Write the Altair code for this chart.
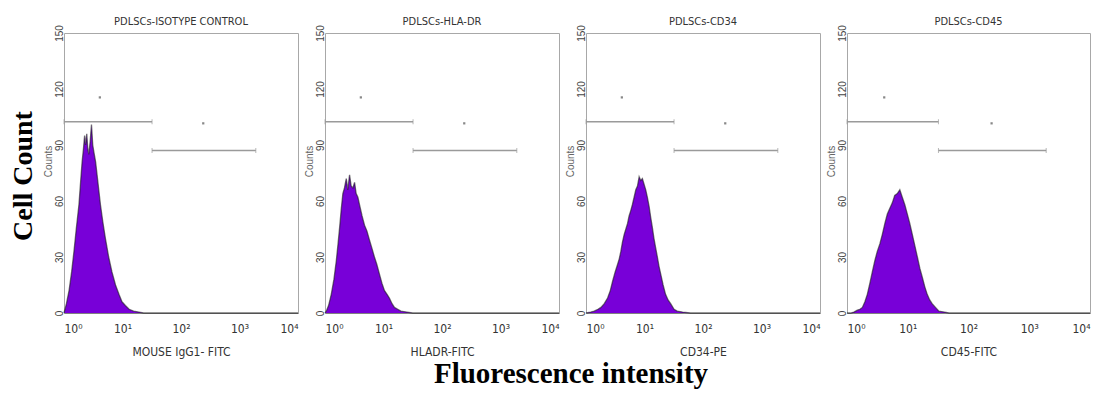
import altair as alt
import pandas as pd

# ---------------- data ----------------
titles = ["PDLSCs-ISOTYPE CONTROL", "PDLSCs-HLA-DR", "PDLSCs-CD34", "PDLSCs-CD45"]
xlabels = ["MOUSE IgG1- FITC", "HLADR-FITC", "CD34-PE", "CD45-FITC"]

p1_x = [1.0, 1.1, 1.22, 1.35, 1.48, 1.62, 1.8, 1.92, 2.04, 2.15, 2.25, 2.34, 2.45, 2.55, 2.66, 2.8,
        2.95, 3.1, 3.25, 3.47, 3.8, 4.2, 4.6, 5.1, 5.8, 6.6, 7.6, 8.7, 9.8, 11.2, 13, 15.5, 19, 23, 10000]
p1_y = [0, 5, 12, 22, 33, 45, 58, 70, 81, 88, 95, 90, 96, 88, 85, 92,
        101, 90, 86, 81, 70, 58, 49, 40, 30, 22, 15, 10, 6, 4, 2, 1, 0.5, 0, 0]

p2_x = [1.0, 1.05, 1.15, 1.28, 1.42, 1.56, 1.67, 1.78, 1.9, 2.02, 2.15, 2.31, 2.45, 2.63, 2.8, 3.0,
        3.2, 3.41, 3.65, 3.89, 4.3, 4.74, 5.2, 5.77, 6.3, 7.0, 7.7, 8.5, 9.4, 10.4, 11.5, 12.6, 14,
        15.4, 17.5, 19.9, 25, 31.6, 10000]
p2_y = [0, 1, 4, 10, 18, 28, 37, 46, 56, 64, 67, 72, 66, 74, 68, 67,
        70, 64, 62, 58, 52, 47, 44, 39, 35, 30, 26, 21, 16, 12, 10, 8, 5,
        3, 2, 1, 0.5, 0, 0]

p3_x = [1.0, 1.2, 1.38, 1.6, 1.8, 2.05, 2.34, 2.6, 2.85, 3.15, 3.46, 3.7, 3.94, 4.2, 4.49, 4.8,
        5.13, 5.45, 5.84, 6.2, 6.64, 7.1, 7.58, 8.1, 8.63, 9.2, 9.83, 10.5, 11.2, 12, 12.8, 13.6,
        14.5, 15.5, 16.6, 17.7, 18.9, 20.8, 22.9, 25.3, 28, 32, 36.3, 45, 61, 10000]
p3_y = [0, 0.5, 1, 2, 3, 5, 8, 12, 17, 22, 26, 29, 33, 38, 42, 45,
        48, 52, 55, 58, 62, 66, 68, 73, 71, 72, 69, 66, 62, 57, 51, 46,
        40, 35, 30, 25, 21, 15, 10, 7, 5, 2, 1, 0.5, 0, 0]

p4_x = [1.0, 1.15, 1.3, 1.48, 1.63, 1.79, 1.97, 2.16, 2.38, 2.61, 2.87, 3.15, 3.47, 3.81, 4.2, 4.61,
        5.05, 5.57, 6.1, 6.73, 7.4, 8.13, 8.95, 9.84, 10.8, 11.9, 13.1, 14.4, 15.8, 17.4, 19.1, 20.9,
        23, 25.2, 28.6, 32.6, 40, 47.8, 10000]
p4_y = [0, 0, 0.5, 1.5, 2, 3, 6, 10, 16, 22, 28, 33, 37, 42, 48, 53,
        56, 59, 63, 64, 66, 62, 58, 53, 48, 42, 36, 30, 24, 19, 14, 10,
        7, 5, 3, 1, 0.5, 0, 0]

# gate markers (same in every panel)
gate_x1 = [1, 32]
gate_x2 = [32, 1900]
gate_y = [102.5, 87]
dot_x = [4.1, 240]
dot_y = [115.5, 101.6]

y_ticks = [0, 30, 60, 90, 120, 150]
x_ticks = [1, 10, 100, 1000, 10000]

PURPLE = "#7800d8"
GRAY = "#9a9a9a"
NARROW = "Liberation Sans Narrow, DejaVu Sans Condensed, Liberation Sans, Arial"
SANS = "Liberation Sans, Arial"
SERIF = "Liberation Serif, Times New Roman"

xscale = alt.Scale(type="log", domain=[1, 10000])
yscale = alt.Scale(domain=[0, 150])
one = pd.DataFrame({"a": [0]})


def panel(xs, ys, title, xlabel, width, extra=None):
    df = pd.DataFrame({"x": xs, "y": ys})
    xaxis = alt.Axis(
        title=xlabel, values=x_ticks, grid=False, ticks=False,
        labelExpr="'10' + ['\u2070','\u00b9','\u00b2','\u00b3','\u2074'][round(log(datum.value)/LN10)]",
        labelFont=NARROW, labelFontSize=12, labelColor="#333", labelPadding=10,
        titleFont=NARROW, titleFontSize=12, titleFontWeight="normal", titleColor="#333",
        titlePadding=12, domainColor="#808080", domainWidth=1,
    )
    yaxis = alt.Axis(
        title="Counts", values=y_ticks, grid=False, ticks=False, domain=False,
        labelAngle=270, labelAlign="center", labelBaseline="bottom", labelPadding=0,
        labelFont=SANS, labelFontSize=10, labelColor="#444",
        titleFont=SANS, titleFontSize=10, titleFontWeight="normal", titleColor="#666",
        titleAngle=270, titleX=-16, titleY=128, titleAlign="center", titleBaseline="middle",
    )
    area = alt.Chart(df).mark_area(color=PURPLE, interpolate="linear").encode(
        x=alt.X("x:Q", scale=xscale, axis=xaxis),
        y=alt.Y("y:Q", scale=yscale, axis=yaxis),
    )
    outline = alt.Chart(df).mark_line(color="#1a1a1a", strokeWidth=1.3, opacity=0.6).encode(
        x=alt.X("x:Q", scale=xscale), y=alt.Y("y:Q", scale=yscale)
    )
    gdf = pd.DataFrame({"x1": gate_x1, "x2": gate_x2, "y": gate_y})
    gates = alt.Chart(gdf).mark_rule(color=GRAY, strokeWidth=1.5).encode(
        x=alt.X("x1:Q", scale=xscale), x2="x2:Q", y=alt.Y("y:Q", scale=yscale)
    )
    caps_l = alt.Chart(gdf).mark_tick(color=GRAY, orient="vertical", size=5, thickness=1).encode(
        x=alt.X("x1:Q", scale=xscale), y=alt.Y("y:Q", scale=yscale)
    )
    caps_r = alt.Chart(gdf).mark_tick(color=GRAY, orient="vertical", size=5, thickness=1).encode(
        x=alt.X("x2:Q", scale=xscale), y=alt.Y("y:Q", scale=yscale)
    )
    ddf = pd.DataFrame({"x": dot_x, "y": dot_y})
    dots = alt.Chart(ddf).mark_square(color="#888", size=5, opacity=1).encode(
        x=alt.X("x:Q", scale=xscale), y=alt.Y("y:Q", scale=yscale)
    )
    ttl = alt.Chart(one).mark_text(
        text=title, font=NARROW, fontSize=11, color="#333", align="center", baseline="middle"
    ).encode(x=alt.value(width / 2), y=alt.value(-11))
    layers = [area, outline, gates, caps_l, caps_r, dots, ttl]
    if extra:
        layers += extra
    return alt.layer(*layers).properties(width=width, height=280)


pin = alt.Chart(one).mark_rule(color="white", strokeWidth=1).encode(
    x=alt.value(-55), x2=alt.value(-54), y=alt.value(-24)
)
cell_count = alt.Chart(one).mark_text(
    text="Cell Count", angle=270, font=SERIF, fontWeight="bold", fontSize=28,
    align="center", baseline="middle", color="#000",
).encode(x=alt.value(-40), y=alt.value(143))
fluo = alt.Chart(one).mark_text(
    text="Fluorescence intensity", font=SERIF, fontWeight="bold", fontSize=29,
    align="center", baseline="alphabetic", color="#000",
).encode(x=alt.value(-15), y=alt.value(350))

p1 = panel(p1_x, p1_y, titles[0], xlabels[0], 234, [pin, cell_count])
p2 = panel(p2_x, p2_y, titles[1], xlabels[1], 234)
p3 = panel(p3_x, p3_y, titles[2], xlabels[2], 234, [fluo])
p4 = panel(p4_x, p4_y, titles[3], xlabels[3], 243)

chart = alt.hconcat(p1, p2, p3, p4, spacing=27, bounds="flush").configure_view(
    stroke="#a8a8a8", strokeWidth=1
).properties(padding=0, background="white")

chart.save("out.html", embed_options={"renderer": "svg", "actions": False})
